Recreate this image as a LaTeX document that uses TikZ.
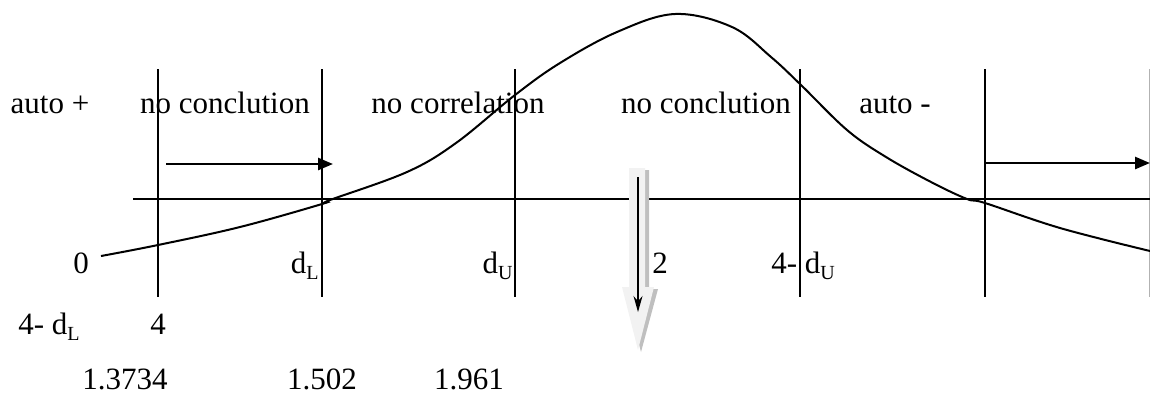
\documentclass[tikz,border=0pt]{standalone}
\usepackage{fontspec}
\setmainfont{Liberation Serif}
\usetikzlibrary{arrows.meta, positioning}

\newcommand{\idx}[1]{\raisebox{-3pt}{\fontsize{10}{10}\selectfont #1}}

\begin{document}
\begin{tikzpicture}[
    x=0.5pt, y=-0.5pt,
    lbl/.style={font=\fontsize{15.5}{18}\selectfont, anchor=base, inner sep=0pt},
    bound/.style={line width=0.8pt},
    axis/.style={line width=1.2pt},
    arrow/.style={-{Triangle[length=7.5pt, width=6pt]}, line width=1.3pt},
]
    \useasboundingbox (0,0) rectangle (1150,393);

    % region boundaries
    \foreach \x/\n in {158/b1, 322/b2, 515/b3, 800/b4, 985/b5} {
        \coordinate (\n top) at (\x,69);
        \coordinate (\n bot) at (\x,297);
        \draw[bound] (\n top) -- (\n bot);
    }
    \coordinate (b6top) at (1149.5,69);
    \coordinate (b6bot) at (1149.5,297);
    \draw[bound, gray!60] (b6top) -- (b6bot);

    % axis
    \coordinate (ax0) at (133,199);
    \coordinate (ax1) at (1150,199);
    \draw[axis] (ax0) -- (ax1);

    % distribution
    \draw[line width=1pt] plot[smooth, tension=0.6] coordinates {
        (101,256) (158,245) (240,227) (322,204) (330,200) (407,172) (456,143)
        (515,95) (560,63) (617,32) (675,14) (732,27) (771,57) (801,85)
        (847,130) (886,157) (931,182) (967,199) (985,203) (1060,228) (1150,251)};

    % arrows
    \coordinate (la0) at (166,164);
    \coordinate (la1) at (333,164);
    \draw[arrow] (la0) -- (la1);
    \coordinate (ra0) at (985,163);
    \coordinate (ra1) at (1150,163);
    \draw[arrow] (ra0) -- (ra1);

    % block arrow at 2
    \fill[gray!50] (633,170) -- (649,170) -- (649,289) -- (658,289) -- (641,352) -- (625,289) -- (633,289) -- cycle;
    \fill[gray!10] (629,168) -- (645,168) -- (645,287) -- (654,287) -- (638,350) -- (622,287) -- (629,287) -- cycle;
    \coordinate (da0) at (638,177);
    \coordinate (da1) at (638,312);
    \draw[-{Stealth[length=8pt, width=4.5pt]}, line width=0.6pt] (da0) -- (da1);

    % region names
    \node[lbl] (apos) at (50,113) {auto +};
    \node[lbl] (nc1) at (225,113) {no conclution};
    \node[lbl] (ncor) at (458,113) {no correlation};
    \node[lbl] (nc2) at (706,113) {no conclution};
    \node[lbl] (aneg) at (895,113) {auto -};

    % axis values
    \node[lbl] (zero) at (81,273) {0};
    \node[lbl, anchor=base east] (dl) at (319,273) {d\idx{L}};
    \node[lbl, anchor=base east] (du) at (513,273) {d\idx{U}};
    \node[lbl] (two) at (660,273) {2};
    \node[lbl, anchor=base west] (fdu) at (771,273) {4- d\idx{U}};
    \node[lbl, anchor=base west] (fdl) at (18,334) {4- d\idx{L}};
    \node[lbl] (four) at (158,334) {4};
    \node[lbl] (v1) at (125,389) {1.3734};
    \node[lbl] (v2) at (322,389) {1.502};
    \node[lbl] (v3) at (469,389) {1.961};
\end{tikzpicture}
\end{document}
